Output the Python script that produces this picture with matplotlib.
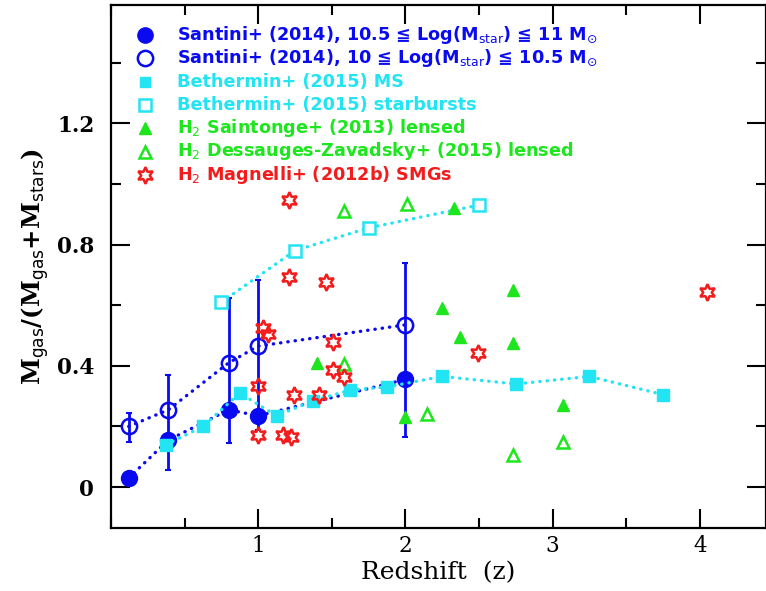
import numpy as np
import matplotlib
matplotlib.use('Agg')
import matplotlib.pyplot as plt
from matplotlib.ticker import MultipleLocator

# Santini+ (2014), two stellar-mass bins, with error bars
santini_z = [0.12, 0.39, 0.8, 1.0, 2.0]
santini_hi = [0.03, 0.155, 0.255, 0.235, 0.355]     # 10.5 <= log M <= 11
santini_lo = [0.20, 0.255, 0.41, 0.465, 0.535]      # 10 <= log M <= 10.5
santini_err_lo = [0.148, 0.056, 0.145, 0.188, 0.165]
santini_err_hi = [0.244, 0.37, 0.624, 0.683, 0.74]

# Bethermin+ (2015)
beth_ms_z = [0.375, 0.625, 0.875, 1.125, 1.375, 1.625, 1.875, 2.25, 2.75, 3.25, 3.75]
beth_ms = [0.14, 0.20, 0.31, 0.235, 0.285, 0.32, 0.33, 0.365, 0.34, 0.365, 0.305]
beth_sb_z = [0.75, 1.25, 1.75, 2.5]
beth_sb = [0.61, 0.78, 0.855, 0.93]

# H2 Saintonge+ (2013) lensed
sai_z = [1.40, 2.0, 2.25, 2.33, 2.37, 2.73, 2.73, 3.07]
sai = [0.41, 0.23, 0.59, 0.92, 0.495, 0.65, 0.475, 0.27]

# H2 Dessauges-Zavadsky+ (2015) lensed
dz_z = [1.58, 1.58, 2.01, 2.15, 2.73, 3.07]
dz = [0.91, 0.405, 0.935, 0.24, 0.105, 0.15]

# H2 Magnelli+ (2012b) SMGs
mag_z = [1.21, 1.21, 1.46, 1.03, 1.07, 1.51, 1.505, 1.58, 1.0, 1.24, 1.41,
         1.0, 1.17, 1.22, 2.49, 4.05]
mag = [0.947, 0.693, 0.677, 0.525, 0.505, 0.479, 0.386, 0.363, 0.333, 0.304, 0.304,
       0.172, 0.172, 0.165, 0.442, 0.645]

blue = '#0a0af0'
cyan = '#22e4f2'
green = '#1ee61e'
red = '#f21c1c'
star = (6, 1, 0)
dots = (0, (0.1, 2.1))
line_kw = dict(ls=dots, lw=2.4, dash_capstyle='round')

fig = plt.figure(figsize=(7.66, 5.91), dpi=100)
ax = fig.add_axes([111 / 766, 63 / 591, 655 / 766, 523 / 591])

# error bars (Santini)
mid = np.array(santini_lo)
ax.errorbar(santini_z, mid,
            yerr=[mid - np.array(santini_err_lo), np.array(santini_err_hi) - mid],
            fmt='none', ecolor=blue, elinewidth=2, capsize=2, capthick=1.5, zorder=2)

ax.plot(santini_z, santini_lo, color=blue, marker='o', ms=11, mfc='none',
        mec=blue, mew=1.8, zorder=3, **line_kw)
ax.plot(santini_z, santini_hi, color=blue, marker='o', ms=11.5, mfc=blue,
        mec=blue, zorder=3, **line_kw)
ax.plot(beth_sb_z, beth_sb, color=cyan, marker='s', ms=8, mfc='white',
        mec=cyan, mew=1.8, zorder=4, **line_kw)
ax.plot(beth_ms_z, beth_ms, color=cyan, marker='s', ms=8, mfc=cyan,
        mec=cyan, zorder=4, **line_kw)
ax.plot(sai_z, sai, ls='none', marker='^', ms=8, color=green, zorder=5)
ax.plot(dz_z, dz, ls='none', marker='^', ms=9, mfc='none', mec=green, mew=1.8, zorder=5)
ax.plot(mag_z, mag, ls='none', marker=star, ms=12, mfc='none', mec=red, mew=1.8, zorder=6)

# legend, drawn by hand
entries = [
    (dict(marker='o', ms=11, mfc=blue, mec=blue), blue,
     r'Santini+ (2014), 10.5 ≦ Log(M$_{\rm star}$) ≦ 11 M$_{\odot}$'),
    (dict(marker='o', ms=11, mfc='none', mec=blue, mew=1.8), blue,
     r'Santini+ (2014), 10 ≦ Log(M$_{\rm star}$) ≦ 10.5 M$_{\odot}$'),
    (dict(marker='s', ms=7, mfc=cyan, mec=cyan), cyan, 'Bethermin+ (2015) MS'),
    (dict(marker='s', ms=8, mfc='none', mec=cyan, mew=1.8), cyan,
     'Bethermin+ (2015) starbursts'),
    (dict(marker='^', ms=8, mfc=green, mec=green), green, r'H$_2$ Saintonge+ (2013) lensed'),
    (dict(marker='^', ms=9, mfc='none', mec=green, mew=1.8), green,
     r'H$_2$ Dessauges-Zavadsky+ (2015) lensed'),
    (dict(marker=star, ms=12, mfc='none', mec=red, mew=1.8), red,
     r'H$_2$ Magnelli+ (2012b) SMGs'),
]
for i, (mk, col, label) in enumerate(entries):
    ypx = 35 + 23.3 * i
    yf = (528 - ypx) / 523
    ax.plot([(145 - 111) / 655], [yf], transform=ax.transAxes, ls='none',
            clip_on=False, **mk)
    ax.text((177 - 111) / 655, yf, label, transform=ax.transAxes, color=col,
            fontsize=12.7, fontweight='bold', va='center', ha='left')

ax.set_xlim(0, 4.45)
ax.set_ylim(-0.135, 1.59)
ax.xaxis.set_major_locator(MultipleLocator(1))
ax.xaxis.set_minor_locator(MultipleLocator(0.5))
ax.yaxis.set_major_locator(MultipleLocator(0.4))
ax.yaxis.set_minor_locator(MultipleLocator(0.2))
ax.set_yticks([0, 0.4, 0.8, 1.2])
ax.set_yticklabels(['0', '0.4', '0.8', '1.2'])
ax.set_xticks([1, 2, 3, 4])
ax.tick_params(which='both', direction='in', top=True, right=True, width=1.5)
ax.tick_params(which='major', length=14)
ax.tick_params(which='minor', length=7)
ax.tick_params(axis='y', pad=12)
ax.tick_params(axis='x', pad=5)
for lab in ax.get_xticklabels() + ax.get_yticklabels():
    lab.set_family('DejaVu Serif')
    lab.set_fontsize(15.5)
for lab in ax.get_yticklabels():
    lab.set_fontweight('bold')
for sp in ax.spines.values():
    sp.set_linewidth(1.6)

ax.set_xlabel('Redshift  (z)', family='DejaVu Serif', fontsize=18, labelpad=3)
ax.set_ylabel(r'M$_{\rm gas}$/(M$_{\rm gas}$+M$_{\rm stars}$)', family='DejaVu Serif',
              fontsize=17.5, fontweight='bold', labelpad=4)

fig.savefig('out.png', dpi=100)
